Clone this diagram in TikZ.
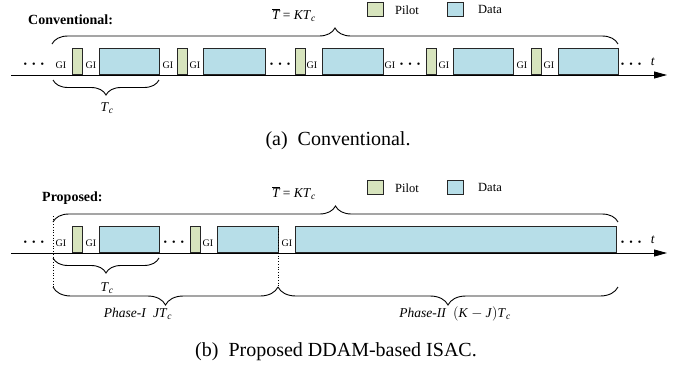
\documentclass[tikz,border=0pt]{standalone}
\usepackage{fontspec}
\setmainfont{Liberation Serif}
\usetikzlibrary{decorations.pathreplacing,arrows.meta}

\definecolor{pilotgreen}{RGB}{215,228,189}
\definecolor{datablue}{RGB}{183,222,232}

\tikzset{
  slot/.style={draw=black!85, line width=0.8pt, anchor=south west, inner sep=0pt, minimum height=26pt},
  pilot/.style={slot, fill=pilotgreen, minimum width=10pt},
  data/.style={slot, fill=datablue},
  gi/.style={font=\fontsize{10}{10}\selectfont, inner sep=0pt},
  dots/.style={font=\fontsize{10}{10}\selectfont, inner sep=0pt},
  brc/.style={decorate, decoration={brace, amplitude=#1}, line width=0.9pt},
  brc/.default=16pt,
  lbl/.style={font=\fontsize{13.5}{13.5}\selectfont, inner sep=0pt},
  axis/.style={line width=0.8pt, -{Triangle[length=13pt,width=7pt]}},
  capt/.style={font=\fontsize{20}{20}\selectfont, inner sep=0pt},
}
\newcommand{\threedots}{\textbullet\hspace{5pt}\textbullet\hspace{5pt}\textbullet}
\newcommand{\iv}[1]{\textit{#1}}
\newcommand{\Tsub}[1]{\iv{#1}\textsubscript{\iv{c}}}

\begin{document}
\begin{tikzpicture}[x=1pt,y=-1pt]
    \useasboundingbox (0,0) rectangle (689,370);

    % Top panel: conventional
    \node[font=\bfseries\fontsize{14}{14}\selectfont, anchor=west, inner sep=0pt] (convtitle) at (28,20) {Conventional:};
    \node[lbl] (convT) at (294,15) {$\overline{\iv{T}}$\ =\ \Tsub{KT}};
    \node[pilot, minimum width=16pt, minimum height=14pt] (convlegp) at (367,17) {};
    \node[lbl, anchor=west, font=\fontsize{12.5}{12.5}\selectfont] (convlegptext) at (395,10) {Pilot};
    \node[data, minimum width=16pt, minimum height=14pt] (convlegd) at (447,17) {};
    \node[lbl, anchor=west, font=\fontsize{12.5}{12.5}\selectfont] (convlegdtext) at (478,9) {Data};

    \coordinate (convstart) at (11,75);
    \coordinate (convend) at (667,75);
    \draw[axis] (convstart) -- (convend);
    \node[lbl] (convt) at (653,62) {\iv{t}};

    \node[pilot] (cp1) at (72,75) {};
    \node[data, minimum width=60pt] (cd1) at (99,75) {};
    \node[pilot] (cp2) at (177,75) {};
    \node[data, minimum width=62pt] (cd2) at (203,75) {};
    \node[pilot] (cp3) at (295,75) {};
    \node[data, minimum width=61pt] (cd3) at (322,75) {};
    \node[pilot] (cp4) at (426,75) {};
    \node[data, minimum width=60pt] (cd4) at (453,75) {};
    \node[pilot] (cp5) at (531,75) {};
    \node[data, minimum width=60pt] (cd5) at (558,75) {};

    \foreach \x [count=\i] in {61,91,168,195,312,390,444,522,549}
        \node[gi] (cgi\i) at (\x,65) {GI};
    \foreach \x [count=\i] in {34,280,410,631}
        \node[dots] (cdots\i) at (\x,65) {\threedots};

    \coordinate (convbl) at (52,44);
    \coordinate (convbr) at (618,44);
    \draw[brc] (convbl) -- (convbr);
    \coordinate (convtcl) at (53,80);
    \coordinate (convtcr) at (159,80);
    \draw[brc=15pt] (convtcr) -- (convtcl);
    \node[lbl] (convtc) at (107,108) {\Tsub{T}};

    \node[capt] (capa) at (338,141) {(a)\enskip Conventional.};

    % Bottom panel: proposed
    \node[font=\bfseries\fontsize{14}{14}\selectfont, anchor=west, inner sep=0pt] (proptitle) at (42,198) {Proposed:};
    \node[lbl] (propT) at (294,193) {$\overline{\iv{T}}$\ =\ \Tsub{KT}};
    \node[pilot, minimum width=16pt, minimum height=14pt] (proplegp) at (367,195) {};
    \node[lbl, anchor=west, font=\fontsize{12.5}{12.5}\selectfont] (proplegptext) at (395,188) {Pilot};
    \node[data, minimum width=16pt, minimum height=14pt] (proplegd) at (447,195) {};
    \node[lbl, anchor=west, font=\fontsize{12.5}{12.5}\selectfont] (proplegdtext) at (478,187) {Data};

    \coordinate (propstart) at (11,253);
    \coordinate (propend) at (667,253);
    \draw[axis] (propstart) -- (propend);
    \node[lbl] (propt) at (653,240) {\iv{t}};

    \node[pilot] (pp1) at (72,253) {};
    \node[data, minimum width=60pt] (pd1) at (99,253) {};
    \node[pilot] (pp2) at (190,253) {};
    \node[data, minimum width=61pt] (pd2) at (217,253) {};
    \node[data, minimum width=321pt] (pd3) at (295,253) {};

    \foreach \x [count=\i] in {61,91,208,287}
        \node[gi] (pgi\i) at (\x,243) {GI};
    \foreach \x [count=\i] in {34,174,631}
        \node[dots] (pdots\i) at (\x,243) {\threedots};

    % phase borders
    \coordinate (ph1top) at (53,216);
    \coordinate (ph1bot) at (53,287);
    \coordinate (ph2top) at (278,226);
    \coordinate (ph2bot) at (278,287);
    \draw[dotted, line width=0.7pt] (ph1top) -- (ph1bot);
    \draw[dotted, line width=0.7pt] (ph2top) -- (ph2bot);

    \coordinate (propbl) at (53,222);
    \coordinate (propbr) at (618,222);
    \draw[brc] (propbl) -- (propbr);
    \coordinate (proptcl) at (53,258);
    \coordinate (proptcr) at (159,258);
    \draw[brc=15pt] (proptcr) -- (proptcl);
    \node[lbl] (proptc) at (107,288) {\Tsub{T}};

    \coordinate (ph3bot) at (618,287);
    \draw[brc=18pt] (ph2bot) -- (ph1bot);
    \draw[brc=18pt] (ph3bot) -- (ph2bot);
    \node[lbl] (phaseone) at (138,314) {\iv{Phase-I}\enskip\Tsub{JT}};
    \node[lbl] (phasetwo) at (455,314) {\iv{Phase-II}\enskip$\left(\mbox{\iv{K}}-\mbox{\iv{J}}\right)$\Tsub{T}};

    \node[capt] (capb) at (336,352) {(b)\enskip Proposed DDAM-based ISAC.};
\end{tikzpicture}
\end{document}
